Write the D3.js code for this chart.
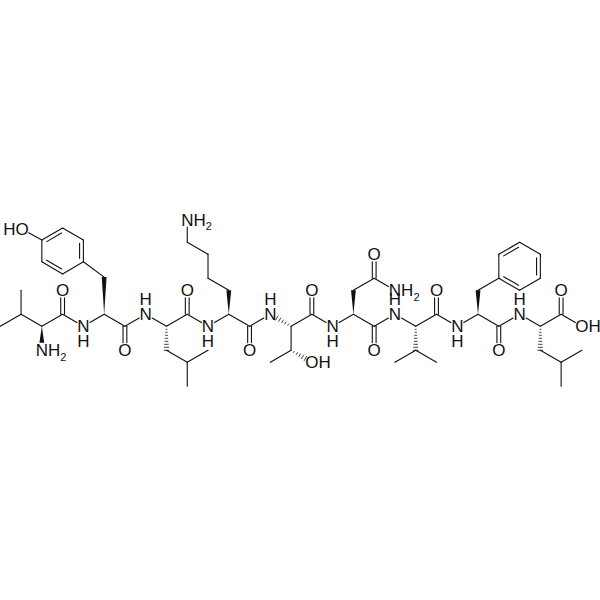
<!DOCTYPE html>
<html>
<head>
<meta charset="utf-8">
<script src="https://cdn.jsdelivr.net/npm/d3@7"></script>
<style>
  html, body { margin: 0; padding: 0; background: #fff; }
  svg { display: block; }
  text { font-family: "Liberation Sans", Arial, sans-serif; fill: #111; }
</style>
</head>
<body>
<div id="viz"></div>
<script>
let width = 600;
let height = 600;

// atoms on the hexagon grid: name, column, row
let valine = [
  ['a1', 0, 1], ['a2', 1, 0], ['a3', 1, -2], ['a4', 2, 1], ['N1', 2, 3],
  ['a5', 3, 0], ['O1', 3, -2], ['N2', 4, 1]
];
let tyrosine = [
  ['b1', 5, 0], ['b2', 5, -3.1], ['b3', 4, -4.38], ['b4', 4, -6.19], ['b5', 3, -7.19],
  ['b6', 2, -6.19], ['b7', 2, -4.38], ['b8', 3, -3.36], ['O2', 1.05, -7.1],
  ['b9', 6, 1], ['O3', 6, 3], ['N3', 7, 0]
];
let leucine1 = [
  ['c1', 8, 1], ['c2', 8, 3], ['c3', 9, 4], ['c4', 9, 6], ['c5', 10, 3],
  ['c6', 9, 0], ['O4', 9, -2], ['N4', 10, 1]
];
let lysine = [
  ['d1', 11, 0], ['d2', 11, -2], ['d3', 10, -3], ['d4', 10, -5], ['d5', 9, -6], ['N5', 9, -7.9],
  ['d6', 12, 1], ['O5', 12, 3], ['N6', 13, 0]
];
let threonine = [
  ['e1', 14, 1], ['e2', 14, 3], ['e3', 13, 4], ['O6', 15, 4],
  ['e4', 15, 0], ['O7', 15, -2], ['N7', 16, 1]
];
let asparagine = [
  ['f1', 17, 0], ['f2', 17, -2], ['f3', 18, -3], ['O8', 18, -5], ['N8', 19, -2],
  ['f4', 18, 1], ['O9', 18, 3], ['N9', 19, 0]
];
let valine2 = [
  ['g1', 20, 1], ['g2', 20, 3], ['g3', 19, 4], ['g4', 21, 4],
  ['g5', 21, 0], ['O10', 21, -2], ['N10', 22, 1]
];
let phenylalanine = [
  ['h1', 23, 0], ['h2', 23, -2], ['h3', 24, -3], ['h4', 24, -5], ['h5', 25, -6],
  ['h6', 26, -5], ['h7', 26, -3], ['h8', 25, -2],
  ['h9', 24, 1], ['O11', 24, 3], ['N11', 25, 0]
];
let leucine2 = [
  ['i1', 26, 1], ['i2', 26, 3], ['i3', 27, 4], ['i4', 27, 6], ['i5', 28, 3],
  ['i6', 27, 0], ['O12', 27, -2], ['O13', 28, 1]
];

// bonds: from, to, kind (s single, d double, r ring double, w wedge, h hashed)
let bonds = [
  ['a1','a2','s'], ['a2','a3','s'], ['a2','a4','s'], ['a4','N1','w'], ['a4','a5','s'],
  ['a5','O1','d'], ['a5','N2','s'], ['N2','b1','s'],
  ['b1','b2','w'], ['b2','b3','s'], ['b3','b4','r'], ['b4','b5','s'], ['b5','b6','r'],
  ['b6','b7','s'], ['b7','b8','r'], ['b8','b3','s'], ['b6','O2','s'],
  ['b1','b9','s'], ['b9','O3','d'], ['b9','N3','s'], ['N3','c1','s'],
  ['c1','c2','h'], ['c2','c3','s'], ['c3','c4','s'], ['c3','c5','s'],
  ['c1','c6','s'], ['c6','O4','d'], ['c6','N4','s'], ['N4','d1','s'],
  ['d1','d2','w'], ['d2','d3','s'], ['d3','d4','s'], ['d4','d5','s'], ['d5','N5','s'],
  ['d1','d6','s'], ['d6','O5','d'], ['d6','N6','s'],
  ['e1','N6','h'], ['e1','e2','s'], ['e2','e3','s'], ['e2','O6','h'],
  ['e1','e4','s'], ['e4','O7','d'], ['e4','N7','s'], ['N7','f1','s'],
  ['f1','f2','w'], ['f2','f3','s'], ['f3','O8','d'], ['f3','N8','s'],
  ['f1','f4','s'], ['f4','O9','d'], ['f4','N9','s'], ['N9','g1','s'],
  ['g1','g2','h'], ['g2','g3','s'], ['g2','g4','s'],
  ['g1','g5','s'], ['g5','O10','d'], ['g5','N10','s'], ['N10','h1','s'],
  ['h1','h2','w'], ['h2','h3','s'], ['h3','h4','s'], ['h4','h5','r'], ['h5','h6','s'],
  ['h6','h7','r'], ['h7','h8','s'], ['h8','h3','r'],
  ['h1','h9','s'], ['h9','O11','d'], ['h9','N11','s'], ['N11','i1','s'],
  ['i1','i2','h'], ['i2','i3','s'], ['i3','i4','s'], ['i3','i5','s'],
  ['i1','i6','s'], ['i6','O12','d'], ['i6','O13','s']
];

// plain oxygens, amide NH (H above -1, below 1), and labels that run sideways
let oxygenLabels = ['O1', 'O3', 'O4', 'O5', 'O7', 'O8', 'O9', 'O10', 'O11', 'O12'];
let amideLabels = [['N2',1], ['N3',-1], ['N4',1], ['N6',-1], ['N7',1], ['N9',-1], ['N10',1], ['N11',-1]];
let rightLabels = [['N1','N','H','2'], ['N5','N','H','2'], ['N8','N','H','2'], ['O6','O','H',''], ['O13','O','H','']];
let leftLabels = [['O2','HO']];

let atoms = new Map(
  [valine, tyrosine, leucine1, lysine, threonine, asparagine, valine2, phenylalanine, leucine2]
    .flat()
    .map(d => [d[0], { name: d[0], col: d[1], row: d[2] }])
);

let x = d3.scaleLinear().domain([0, 28]).range([0.3, 581.9]);
let y = d3.scaleLinear().domain([0, 6]).range([314.3, 386.3]);

let px = a => [x(atoms.get(a).col), y(atoms.get(a).row)];
let isHetero = a => /^[NO]/.test(a);

let svg = d3.select('#viz')
  .append('svg')
  .attr('width', width)
  .attr('height', height);

let ink = '#111';
let gap = 7.5;
let strokeW = 1.1;

// end points of a bond, pulled back from any labelled atom
function ends(d) {
  let p = px(d[0]), q = px(d[1]);
  let dx = q[0] - p[0], dy = q[1] - p[1];
  let len = Math.hypot(dx, dy);
  let ux = dx / len, uy = dy / len;
  let a = isHetero(d[0]) ? gap : 0;
  let b = isHetero(d[1]) ? gap : 0;
  return {
    x1: p[0] + ux * a, y1: p[1] + uy * a,
    x2: q[0] - ux * b, y2: q[1] - uy * b,
    ux, uy
  };
}

function addLine(g, x1, y1, x2, y2, w) {
  g.append('line')
    .attr('x1', x1).attr('y1', y1)
    .attr('x2', x2).attr('y2', y2)
    .attr('stroke', ink)
    .attr('stroke-width', w || strokeW)
    .attr('stroke-linecap', 'round');
}

// ring centres, so the inner line of a ring double goes on the right side
let ringOf = name => {
  let ring = name[0] === 'b' ? ['b3','b4','b5','b6','b7','b8'] : ['h3','h4','h5','h6','h7','h8'];
  return [d3.mean(ring, r => px(r)[0]), d3.mean(ring, r => px(r)[1])];
};

let bondGroup = svg.append('g').attr('class', 'bonds');

bondGroup.selectAll('g')
  .data(bonds)
  .enter()
  .append('g')
  .each(function (d) {
    let g = d3.select(this);
    let e = ends(d);
    let nx = -e.uy, ny = e.ux;
    if (d[2] === 's') {
      addLine(g, e.x1, e.y1, e.x2, e.y2);
    } else if (d[2] === 'd') {
      addLine(g, e.x1 + nx * 1.9, e.y1 + ny * 1.9, e.x2 + nx * 1.9, e.y2 + ny * 1.9);
      addLine(g, e.x1 - nx * 1.9, e.y1 - ny * 1.9, e.x2 - nx * 1.9, e.y2 - ny * 1.9);
    } else if (d[2] === 'r') {
      addLine(g, e.x1, e.y1, e.x2, e.y2);
      let c = ringOf(d[0]);
      let side = ((c[0] - e.x1) * nx + (c[1] - e.y1) * ny) > 0 ? 1 : -1;
      let off = 3.8 * side, cut = 3.4;
      addLine(g,
        e.x1 + nx * off + e.ux * cut, e.y1 + ny * off + e.uy * cut,
        e.x2 + nx * off - e.ux * cut, e.y2 + ny * off - e.uy * cut);
    } else if (d[2] === 'w') {
      let hw = 2.4;
      g.append('path')
        .attr('d', d3.line()([
          [e.x1, e.y1],
          [e.x2 + nx * hw, e.y2 + ny * hw],
          [e.x2 - nx * hw, e.y2 - ny * hw]
        ]) + 'Z')
        .attr('fill', ink);
    } else if (d[2] === 'h') {
      let len = Math.hypot(e.x2 - e.x1, e.y2 - e.y1);
      let n = Math.max(4, Math.round(len / 3.2));
      d3.range(1, n + 1).forEach(i => {
        let t = i / n;
        let hw = 0.2 + 2.2 * t;
        let cx = e.x1 + (e.x2 - e.x1) * t, cy = e.y1 + (e.y2 - e.y1) * t;
        addLine(g, cx + nx * hw, cy + ny * hw, cx - nx * hw, cy - ny * hw, 0.8);
      });
    }
  });

let fs = 17;
let base = fs * 0.36;
let labelGroup = svg.append('g').attr('class', 'labels').style('font-size', fs + 'px');

labelGroup.selectAll('text.atom')
  .data(oxygenLabels)
  .enter()
  .append('text')
  .attr('class', 'atom')
  .attr('x', d => px(d)[0])
  .attr('y', d => px(d)[1] + base)
  .attr('text-anchor', 'middle')
  .text('O');

// amide N with its H stacked in the same text
let amide = labelGroup.selectAll('text.amide')
  .data(amideLabels)
  .enter()
  .append('text')
  .attr('class', 'amide')
  .attr('y', d => px(d[0])[1] + base)
  .attr('text-anchor', 'middle');
amide.append('tspan')
  .attr('x', d => px(d[0])[0])
  .text('N');
amide.append('tspan')
  .attr('x', d => px(d[0])[0])
  .attr('dy', d => d[1] * 15)
  .text('H');

let right = labelGroup.selectAll('text.right')
  .data(rightLabels)
  .enter()
  .append('text')
  .attr('class', 'right')
  .attr('x', d => px(d[0])[0] - (d[1] === 'N' ? 6.1 : 6.6))
  .attr('y', d => px(d[0])[1] + base);
right.append('tspan').text(d => d[1] + d[2]);
right.filter(d => d[3] !== '')
  .append('tspan')
  .attr('dy', 4.5)
  .style('font-size', '11px')
  .text(d => d[3]);

labelGroup.selectAll('text.left')
  .data(leftLabels)
  .enter()
  .append('text')
  .attr('class', 'left')
  .attr('x', d => px(d[0])[0] + 6.6)
  .attr('y', d => px(d[0])[1] + base)
  .attr('text-anchor', 'end')
  .text(d => d[1]);
</script>
</body>
</html>
